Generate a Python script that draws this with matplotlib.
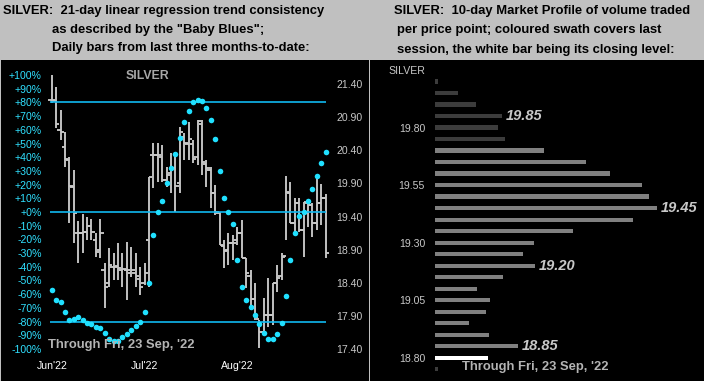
import matplotlib
matplotlib.use("Agg")
import matplotlib.pyplot as plt
from matplotlib.patches import Rectangle

plt.rcParams['font.family'] = ['Liberation Sans', 'DejaVu Sans']

# daily bars, last three months (index = trading day)
opens = [21.16, 21.15, 20.70, 20.45, 20.25, 19.85, 19.15, 19.15, 19.17, 19.26,
         19.05, 18.90, 18.60, 18.40, 18.64, 18.65, 18.60, 18.60, 18.55, 18.55,
         18.45, 18.40, 19.05, 20.33, 20.33, 20.30, 19.95, 20.05, 20.13, 19.90,
         20.60, 20.50, 20.50, 20.30, 20.80, 20.20, 20.10, 19.75, 19.45, 18.95,
         18.90, 19.00, 19.05, 19.15, 18.77, 18.50, 18.15, 17.85, 17.66, 17.91,
         17.91, 18.40, 18.50, 18.80, 19.75, 19.30, 19.60, 19.20, 19.60, 19.57,
         19.30, 19.60, 19.68]
highs = [21.54, 21.36, 21.01, 20.68, 20.30, 20.10, 19.33, 19.44, 19.39, 19.36,
         19.15, 19.36, 18.70, 18.92, 18.85, 19.00, 18.85, 19.01, 18.94, 18.85,
         18.64, 18.70, 20.00, 20.51, 20.51, 20.48, 20.15, 20.36, 20.37, 20.75,
         20.66, 20.83, 20.56, 20.86, 20.86, 20.25, 20.15, 19.88, 19.47, 19.05,
         19.15, 19.12, 19.24, 19.35, 18.77, 18.59, 18.40, 17.84, 18.17, 18.47,
         18.40, 18.67, 18.85, 20.01, 19.92, 19.68, 19.68, 19.62, 19.65, 19.60,
         19.98, 19.89, 19.74]
lows = [21.11, 20.74, 20.55, 20.15, 19.30, 19.00, 18.70, 18.85, 19.05, 19.05,
        18.79, 18.78, 18.02, 18.34, 18.44, 18.44, 18.34, 18.14, 18.49, 18.34,
        18.21, 18.37, 18.34, 19.83, 19.92, 19.92, 19.85, 19.76, 19.47, 19.76,
        20.25, 20.25, 20.21, 20.18, 20.03, 19.85, 19.53, 19.42, 18.97, 18.62,
        18.67, 18.74, 18.97, 18.77, 18.32, 17.99, 17.84, 17.42, 17.61, 17.73,
        17.76, 18.26, 18.44, 19.05, 19.30, 19.17, 19.17, 18.79, 19.24, 19.09,
        19.20, 19.27, 18.77]
closes = [21.16, 20.80, 20.68, 20.27, 19.86, 19.45, 19.15, 19.17, 19.26, 19.17,
          18.86, 19.15, 18.34, 18.67, 18.64, 18.62, 18.61, 18.59, 18.59, 18.50,
          18.34, 18.55, 20.00, 20.33, 20.33, 19.95, 20.03, 20.13, 19.86, 20.68,
          20.51, 20.57, 20.27, 20.84, 20.22, 20.13, 19.76, 19.47, 18.97, 18.88,
          19.00, 19.00, 19.15, 18.77, 18.55, 18.16, 17.88, 17.66, 17.91, 17.91,
          18.40, 18.47, 18.79, 19.77, 19.30, 19.60, 19.20, 19.62, 19.57, 19.30,
          19.60, 19.68, 18.85]
# "Baby Blues": 21-day linear regression trend consistency (%)
baby_blues = [-57, -64, -66, -73, -79, -78, -77, -79, -81, -82,
              -84, -85, -88, -93, -94, -94, -91, -89, -86, -83,
              -80, -73, -52, -17, 0, 8, 21, 32, 42, 54,
              66, 74, 80, 82, 81, 76, 67, 53, 30, 10,
              0, -9, -35, -55, -64, -69, -75, -82, -88, -93,
              -93, -89, -81, -61, -35, -15, -3, 0, 8, 17,
              26, 36, 44]
month_labels = ["Jun'22", "Jul'22", "Aug'22"]
month_pos = [0.1, 21.1, 42.0]

# 10-day market profile
profile_levels = [20.00, 19.95, 19.90, 19.85, 19.80, 19.75, 19.70, 19.65, 19.60,
                  19.55, 19.50, 19.45, 19.40, 19.35, 19.30, 19.25, 19.20, 19.15,
                  19.10, 19.05, 19.00, 18.95, 18.90, 18.85, 18.80, 18.75]
profile_volume = [3, 23, 41, 67, 63, 70, 109, 151, 175, 207, 214, 222, 198,
                  138, 99, 88, 100, 68, 42, 55, 51, 34, 54, 83, 53, 3]
profile_marked = [19.85, 19.45, 19.20, 18.85]
swath_top, swath_bottom, close_level = 19.70, 18.80, 18.80

W, H = 704, 381
fig = plt.figure(figsize=(W / 100, H / 100), dpi=100, facecolor='#c0c0c0')

def fx(x):
    return x / W

def fy(y):
    return 1 - y / H

# black panels
fig.add_artist(Rectangle((fx(1), 0), fx(368), fy(60), transform=fig.transFigure,
                         facecolor='black', edgecolor='none', zorder=-10))
fig.add_artist(Rectangle((fx(370), 0), fx(334), fy(60), transform=fig.transFigure,
                         facecolor='black', edgecolor='none', zorder=-10))

# titles
tkw = dict(fontsize=9.4, fontweight='bold', color='black')
fig.text(fx(3), fy(14), 'SILVER:  21-day linear regression trend consistency', **tkw)
fig.text(fx(52), fy(32.5), 'as described by the "Baby Blues";', **tkw)
fig.text(fx(52), fy(51.5), 'Daily bars from last three months-to-date:', **tkw)
fig.text(fx(394), fy(14), 'SILVER:  10-day Market Profile of volume traded', **tkw)
fig.text(fx(397), fy(33), 'per price point; coloured swath covers last', **tkw)
fig.text(fx(397), fy(52.5), 'session, the white bar being its closing level:', **tkw)

# ---- left: bars + baby blues
ax1 = fig.add_axes([fx(48), fy(349), (330 - 48) / W, (349 - 75) / H])
ax1d = ax1.twinx()
ax1.set_facecolor('none')
x = list(range(len(closes)))
ax1.vlines(x, lows, highs, color='#c8c8c8', lw=1.35)
ax1.hlines(opens, [i - 0.75 for i in x], x, color='#c8c8c8', lw=1.35)
ax1.hlines(closes, x, [i + 0.75 for i in x], color='#c8c8c8', lw=1.35)
ax1.set_xlim(-0.84, 62.97)
ax1.set_ylim(17.40, 21.536)
ax1.set_yticks([17.40 + 0.5 * k for k in range(9)])
ax1.set_yticklabels(['%.2f' % (17.40 + 0.5 * k) for k in range(9)])
ax1.tick_params(axis='y', length=0, pad=4.5, colors='#c8c8c8', labelsize=7.6)
ax1.set_xticks(month_pos)
ax1.set_xticklabels(month_labels)
ax1.tick_params(axis='x', length=0, pad=8.5, colors='white', labelsize=7.6)

ax1d.set_ylim(-100, 100)
for lvl in (80, 0, -80):
    ax1d.hlines(lvl, -0.4, 62.1, color='#10b8f0', lw=1.2)
ax1d.plot(x, baby_blues, 'o', color='#20e0ff', ms=4, mec='none')
ax1d.yaxis.tick_left()
ticks = list(range(100, -101, -10))
ax1d.set_yticks(ticks)
ax1d.set_yticklabels([('+%d%%' % t) if t >= 0 else ('%d%%' % t) for t in ticks])
ax1d.tick_params(axis='y', length=0, pad=4.5, colors='#30e0ff', labelsize=7.6)
ax1.yaxis.tick_right()
for a in (ax1, ax1d):
    for s in a.spines.values():
        s.set_visible(False)

fig.text(fx(147), fy(76), 'SILVER', fontsize=8.8, fontweight='bold', color='#a8a8a8',
         ha='center', va='center')
fig.text(fx(48), fy(345), "Through Fri, 23 Sep, '22", fontsize=9.4, fontweight='bold',
         color='#b4b4b4', va='center')

# ---- right: market profile
ax2 = fig.add_axes([fx(435), 0, (704 - 435) / W, fy(60)])
ax2.set_facecolor('none')
colors = []
for lv in profile_levels:
    if abs(lv - close_level) < 1e-6:
        colors.append('white')
    elif swath_bottom - 1e-6 <= lv <= swath_top + 1e-6:
        colors.append('#808080')
    else:
        colors.append('#3c3c3c')
ax2.barh(profile_levels, profile_volume, height=0.019, color=colors)
for lv, v in zip(profile_levels, profile_volume):
    if lv in profile_marked:
        ax2.text(v + 4, lv, '%.2f' % lv, fontsize=10.5, fontweight='bold', style='italic',
                 color='#c8c8c8', va='center')
ax2.set_xlim(0, 269)
ax2.set_ylim(18.699, 20.094)
ax2.set_xticks([])
ax2.set_yticks([19.80, 19.55, 19.30, 19.05, 18.80])
ax2.set_yticklabels(['19.80', '19.55', '19.30', '19.05', '18.80'])
ax2.tick_params(axis='y', length=0, pad=7.2, colors='#c8c8c8', labelsize=7.6)
for s in ax2.spines.values():
    s.set_visible(False)

fig.text(fx(425), fy(71), 'SILVER', fontsize=7.6, color='#c8c8c8', ha='right', va='center')
fig.text(fx(462), fy(367), "Through Fri, 23 Sep, '22", fontsize=9.4, fontweight='bold',
         color='#b4b4b4', va='center')

fig.savefig('out.png', dpi=100, facecolor=fig.get_facecolor())
